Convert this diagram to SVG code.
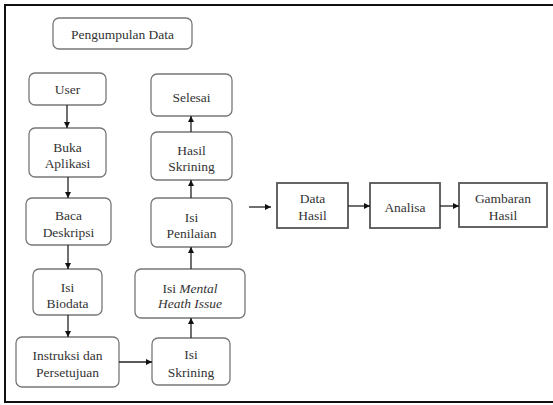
<svg xmlns="http://www.w3.org/2000/svg" width="553" height="405" viewBox="0 0 553 405" font-family="Liberation Serif, DejaVu Serif, serif">
<defs>
<style>
.frame{fill:none;stroke:#111;stroke-width:2}
.rb{fill:#fff;stroke:#777;stroke-width:1.3}
.sb{fill:#fff;stroke:#555;stroke-width:1.8}
text{font-size:13.5px;fill:#333;text-anchor:middle}
.it{font-style:italic}
.c line{stroke:#222;stroke-width:1.3}
</style>
<marker id="ah" viewBox="0 0 10 10" refX="10" refY="5" markerWidth="6" markerHeight="6" markerUnits="userSpaceOnUse" orient="auto">
<path d="M0,0 L10,5 L0,10 z" fill="#111"/>
</marker>
</defs>
<rect width="553" height="405" fill="#fff"/>
<rect class="frame" x="5" y="5" width="560" height="397"/>

<g id="pengumpulan"><rect class="rb" x="53" y="18" width="139" height="31" rx="6"/><text x="122.5" y="38.5" font-family="Liberation Serif, serif">Pengumpulan Data</text></g>
<g id="user"><rect class="rb" x="29" y="73" width="77" height="32" rx="6"/><text x="67.5" y="94">User</text></g>
<g id="buka"><rect class="rb" x="29" y="128" width="77" height="49" rx="6"/><text x="67.5" y="151.5">Buka</text><text x="67.5" y="167.5">Aplikasi</text></g>
<g id="baca"><rect class="rb" x="26" y="198" width="85" height="47" rx="6"/><text x="68.5" y="219.5">Baca</text><text x="68.5" y="236.5">Deskripsi</text></g>
<g id="biodata"><rect class="rb" x="33" y="269" width="69" height="46" rx="6"/><text x="67.5" y="291.5">Isi</text><text x="67.5" y="307.5">Biodata</text></g>
<g id="instruksi"><rect class="rb" x="16" y="337" width="103" height="50" rx="6"/><text x="67.5" y="359.5">Instruksi dan</text><text x="67.5" y="376.5">Persetujuan</text></g>
<g id="skrining"><rect class="rb" x="152" y="338" width="78" height="47" rx="6"/><text x="191" y="358.5">Isi</text><text x="191" y="376.5">Skrining</text></g>
<g id="mental"><rect class="rb" x="135" y="269" width="110" height="49" rx="6"/><text x="190" y="292.5">Isi <tspan class="it">Mental</tspan></text><text x="190" y="307.5" class="it">Heath Issue</text></g>
<g id="penilaian"><rect class="rb" x="151" y="198" width="81" height="49" rx="6"/><text x="191.5" y="222">Isi</text><text x="191.5" y="238">Penilaian</text></g>
<g id="hasil"><rect class="rb" x="151" y="132" width="81" height="48" rx="6"/><text x="191.5" y="154.5">Hasil</text><text x="191.5" y="170.5">Skrining</text></g>
<g id="selesai"><rect class="rb" x="151" y="74" width="81" height="42" rx="6"/><text x="191.5" y="101.5">Selesai</text></g>
<g id="datahasil"><rect class="sb" x="277" y="183" width="71" height="45"/><text x="312.5" y="202.5">Data</text><text x="312.5" y="219.5">Hasil</text></g>
<g id="analisa"><rect class="sb" x="370" y="183" width="70" height="45"/><text x="405" y="211.5">Analisa</text></g>
<g id="gambaran"><rect class="sb" x="459" y="183" width="88" height="44"/><text x="503" y="202.5">Gambaran</text><text x="503" y="219.5">Hasil</text></g>

<g id="connectors" class="c">
<line x1="67" y1="105" x2="67" y2="128" marker-end="url(#ah)"/>
<line x1="68" y1="177" x2="68" y2="198" marker-end="url(#ah)"/>
<line x1="68" y1="245" x2="68" y2="269" marker-end="url(#ah)"/>
<line x1="68" y1="315" x2="68" y2="337" marker-end="url(#ah)"/>
<line x1="119" y1="362" x2="152" y2="362" marker-end="url(#ah)"/>
<line x1="191" y1="338" x2="191" y2="318" marker-end="url(#ah)"/>
<line x1="191" y1="269" x2="191" y2="247" marker-end="url(#ah)"/>
<line x1="191" y1="198" x2="191" y2="180" marker-end="url(#ah)"/>
<line x1="191" y1="132" x2="191" y2="116" marker-end="url(#ah)"/>
<line x1="249" y1="207" x2="271" y2="207" marker-end="url(#ah)"/>
<line x1="348" y1="206" x2="370" y2="206" marker-end="url(#ah)"/>
<line x1="440" y1="206" x2="459" y2="206" marker-end="url(#ah)"/>
</g>
</svg>
